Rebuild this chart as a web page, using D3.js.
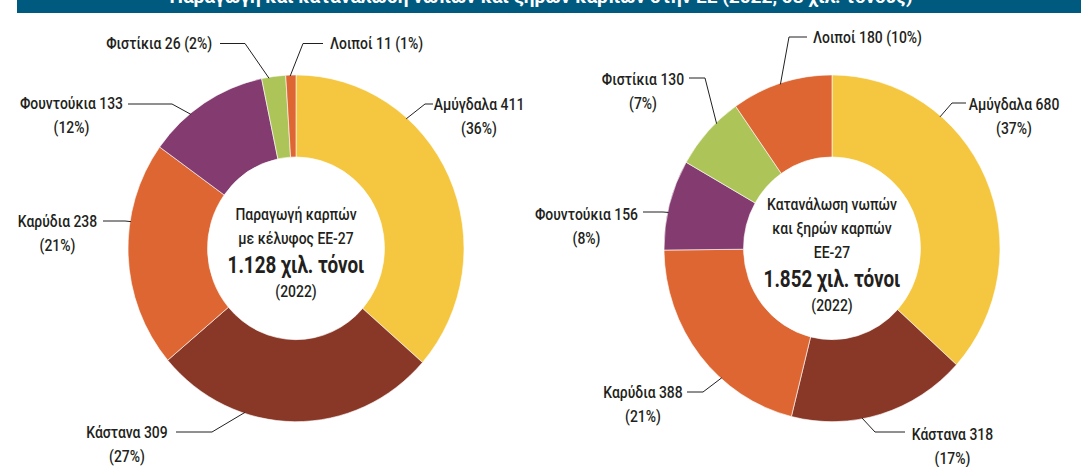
<!DOCTYPE html>
<html>
<head>
<meta charset="utf-8">
<script src="https://cdn.jsdelivr.net/npm/d3@7"></script>
<style>
  body { margin: 0; background: #fff; }
  text { font-family: "Roboto", "Liberation Sans Narrow", "DejaVu Sans Condensed", sans-serif; fill: #231f20; }
</style>
</head>
<body>
<div id="chart"></div>
<script>
// data of the two donuts (thousand tonnes, 2022)
const prodCategories = ["Αμύγδαλα", "Κάστανα", "Καρύδια", "Φουντούκια", "Φιστίκια", "Λοιποί"]
const prodValues = [411, 309, 238, 133, 26, 11]
const consCategories = ["Αμύγδαλα", "Κάστανα", "Καρύδια", "Φουντούκια", "Φιστίκια", "Λοιποί"]
const consValues = [680, 318, 388, 156, 130, 180]

const prodCenterText = ["Παραγωγή καρπών", "με κέλυφος ΕΕ-27"]
const consCenterText = ["Κατανάλωση νωπών", "και ξηρών καρπών", "ΕΕ-27"]
const prodTotal = "1.128 χιλ. τόνοι"
const consTotal = "1.852 χιλ. τόνοι"
const yearLabel = "(2022)"
const title = "Παραγωγή και κατανάλωση νωπών και ξηρών καρπών στην ΕΕ (2022, σε χιλ. τόνους)"

const colors = {
  "Αμύγδαλα": "#f5c63f",
  "Κάστανα": "#893828",
  "Καρύδια": "#dd6632",
  "Φουντούκια": "#843b70",
  "Φιστίκια": "#adc458",
  "Λοιποί": "#dd6632"
}

// layout of the labels: text position, leader start, elbow x, anchor angle on ring (deg)
const prodLayout = {
  "Αμύγδαλα":   { x: 479, y: 110, anchor: "middle", start: [433, 104], elbow: 425, angle: 41.3 },
  "Κάστανα":    { x: 127, y: 438, anchor: "middle", start: [176, 432], elbow: 212, angle: 197.8 },
  "Καρύδια":    { x: 57.5, y: 227, anchor: "middle", start: [103, 221], elbow: 125, angle: 278.9 },
  "Φουντούκια": { x: 71.5, y: 109, anchor: "middle", start: [128, 104], elbow: 172, angle: 321 },
  "Φιστίκια":   { x: 212, y: 49, anchor: "end", oneLine: true, start: [220, 43.5], elbow: 245, angle: 350.7 },
  "Λοιποί":     { x: 330, y: 49, anchor: "start", oneLine: true, start: [323, 43.5], elbow: 303, angle: 358 }
}
const consLayout = {
  "Αμύγδαλα":   { x: 1014, y: 110, anchor: "middle", start: [966, 103], elbow: 952, angle: 40.3 },
  "Κάστανα":    { x: 952.5, y: 440, anchor: "middle", start: [905, 432], elbow: 875, angle: 169.7 },
  "Καρύδια":    { x: 643, y: 398, anchor: "middle", start: [687, 392], elbow: 703, angle: 221.3 },
  "Φουντούκια": { x: 586.5, y: 220, anchor: "middle", start: [643, 212], elbow: 663, angle: 282 },
  "Φιστίκια":   { x: 643, y: 85, anchor: "middle", start: [689, 78], elbow: 705, angle: 316.3 },
  "Λοιποί":     { x: 813, y: 43, anchor: "start", oneLine: true, start: [807, 37], elbow: 789, angle: 342 }
}

const width = 1081, height = 467
const outerR = 168, innerR = 88.5, squashY = 1.032
const narrow = 0.82   // the original uses a condensed face

const svg = d3.select("#chart")
  .append("svg")
    .attr("width", width)
    .attr("height", height)

// put a condensed text at x,y
function label(x, y, anchor, str, size, weight, sx) {
  return svg.append("text")
    .attr("transform", `translate(${x},${y}) scale(${sx || narrow},1)`)
    .attr("text-anchor", anchor)
    .style("font-size", size + "px")
    .style("font-weight", weight || 500)
    .text(str)
}

// title banner (cut at the top of the picture)
svg.append("rect")
  .attr("x", 17).attr("y", 0)
  .attr("width", width - 17).attr("height", 13)
  .attr("fill", "#005a80")
label(541, 3, "middle", title, 19, 700, 1).style("fill", "#fff")

function drawDonut(categories, values, layout, cx, cy, centerLines, totalText, totalY) {
  const data = categories.map((c, i) => ({ cat: c, value: values[i] }))
  const total = d3.sum(values)

  const pie = d3.pie().sort(null).value(d => d.value)
  const arc = d3.arc().innerRadius(innerR).outerRadius(outerR)

  const g = svg.append("g")
    .attr("transform", `translate(${cx},${cy}) scale(1,${squashY})`)

  g.selectAll("path")
    .data(pie(data))
    .enter().append("path")
      .attr("d", arc)
      .attr("fill", d => colors[d.data.cat])
      .attr("stroke", "#fff")
      .attr("stroke-width", 0.6)

  // labels and leader lines
  data.forEach(d => {
    const l = layout[d.cat]
    const a = l.angle * Math.PI / 180
    const ax = cx + (outerR - 1) * Math.sin(a)
    const ay = cy - (outerR - 1) * Math.cos(a) * squashY
    svg.append("path")
      .attr("d", d3.line()([l.start, [l.elbow, l.start[1]], [ax, ay]]))
      .attr("fill", "none")
      .attr("stroke", "#231f20")
      .attr("stroke-width", 1)

    const pct = "(" + Math.round(d.value / total * 100) + "%)"
    if (l.oneLine) {
      label(l.x, l.y, l.anchor, d.cat + " " + d.value + " " + pct, 17)
    } else {
      label(l.x, l.y, l.anchor, d.cat + " " + d.value, 17)
      label(l.x, l.y + 23.5, "middle", pct, 17)
    }
  })

  // text in the hole
  const firstY = totalY - 24 * centerLines.length - 5
  centerLines.forEach((line, i) => {
    label(cx, firstY + i * 24, "middle", line, 17)
  })
  label(cx, totalY, "middle", totalText, 23, 700)
  label(cx, totalY + 23.5, "middle", yearLabel, 17)
}

drawDonut(prodCategories, prodValues, prodLayout, 296, 248.3, prodCenterText, prodTotal, 273)
drawDonut(consCategories, consValues, consLayout, 832, 248.3, consCenterText, consTotal, 287)
</script>
</body>
</html>
